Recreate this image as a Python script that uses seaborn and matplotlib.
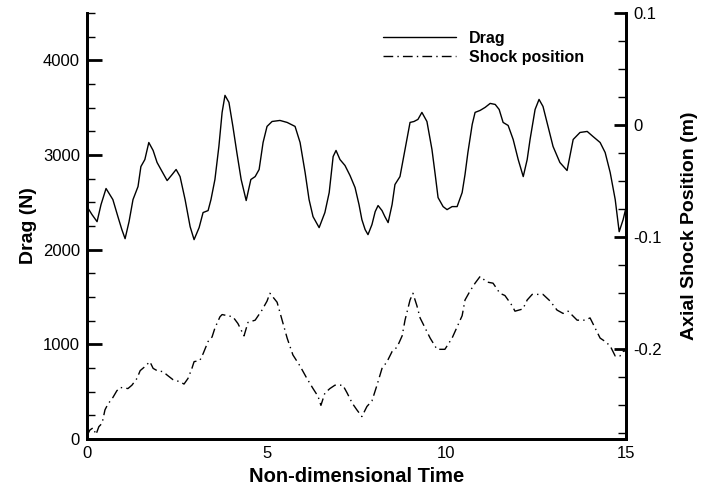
import numpy as np
import pandas as pd
import matplotlib
matplotlib.use("Agg")
import matplotlib.pyplot as plt
from matplotlib.ticker import MultipleLocator, FixedLocator
import seaborn as sns

# Drag history (N) against non-dimensional time
drag_time = [0.00, 0.14, 0.28, 0.39, 0.53, 0.72, 0.86, 0.97, 1.06, 1.17, 1.28, 1.42, 1.50,
             1.61, 1.72, 1.84, 1.95, 2.09, 2.23, 2.37, 2.48, 2.59, 2.73, 2.87, 2.98, 3.12,
             3.23, 3.37, 3.45, 3.56, 3.67, 3.76, 3.84, 3.95, 4.06, 4.17, 4.29, 4.43, 4.56,
             4.68, 4.79, 4.90, 5.01, 5.15, 5.37, 5.57, 5.79, 5.93, 6.07, 6.18, 6.29, 6.46,
             6.62, 6.74, 6.85, 6.93, 7.04, 7.18, 7.32, 7.46, 7.57, 7.65, 7.74, 7.82, 7.93,
             8.02, 8.10, 8.21, 8.29, 8.38, 8.49, 8.57, 8.71, 8.85, 8.99, 9.10, 9.21, 9.32,
             9.46, 9.60, 9.69, 9.77, 9.91, 10.02, 10.16, 10.30, 10.44, 10.52, 10.60, 10.72,
             10.80, 10.94, 11.08, 11.22, 11.36, 11.47, 11.58, 11.72, 11.86, 12.00, 12.14,
             12.25, 12.33, 12.47, 12.58, 12.69, 12.83, 12.97, 13.16, 13.36, 13.53, 13.72,
             13.92, 14.08, 14.28, 14.42, 14.56, 14.70, 14.81, 14.92, 15.00]
drag_value = [2455, 2370, 2296, 2476, 2646, 2529, 2349, 2212, 2116, 2296, 2529, 2667, 2878,
              2952, 3132, 3048, 2921, 2825, 2730, 2794, 2847, 2772, 2529, 2243, 2106, 2233,
              2392, 2413, 2529, 2741, 3090, 3450, 3630, 3556, 3302, 3026, 2741, 2519, 2741,
              2772, 2847, 3132, 3302, 3354, 3365, 3344, 3302, 3132, 2815, 2529, 2349, 2233,
              2392, 2603, 2984, 3048, 2952, 2889, 2783, 2656, 2476, 2317, 2212, 2159, 2265,
              2402, 2466, 2413, 2349, 2286, 2476, 2688, 2772, 3058, 3344, 3354, 3376, 3450,
              3354, 3058, 2794, 2550, 2455, 2423, 2455, 2455, 2603, 2794, 3026, 3323,
              3450, 3471, 3503, 3545, 3534, 3481, 3344, 3312, 3164, 2952, 2772,
              2952, 3164, 3481, 3587, 3513, 3302, 3090, 2921, 2836, 3164, 3238,
              3249, 3196, 3132, 3026, 2815, 2529, 2190, 2317, 2444]

# Axial shock position (m) against non-dimensional time
shock_time = [0.00, 0.08, 0.17, 0.25, 0.33, 0.42, 0.50, 0.58, 0.72, 0.83, 0.92, 1.14, 1.25,
              1.39, 1.48, 1.59, 1.75, 1.84, 1.95, 2.12, 2.23, 2.39, 2.59, 2.70, 2.81, 2.92,
              2.98, 3.14, 3.23, 3.37, 3.48, 3.56, 3.70, 3.76, 4.06, 4.20, 4.37, 4.48, 4.68,
              4.87, 5.01, 5.09, 5.29, 5.43, 5.57, 5.73, 5.93, 6.12, 6.29, 6.43, 6.51, 6.62,
              6.76, 6.90, 7.12, 7.24, 7.38, 7.51, 7.65, 7.79, 7.93, 8.07, 8.21, 8.35, 8.49,
              8.63, 8.77, 8.85, 8.99, 9.07, 9.18, 9.27, 9.41, 9.55, 9.74, 9.96, 10.16, 10.30,
              10.44, 10.52, 10.66, 10.80, 10.94, 11.13, 11.30, 11.49, 11.63, 11.83, 11.91,
              12.13, 12.25, 12.39, 12.69, 12.89, 13.08, 13.25, 13.39, 13.64, 13.86, 14.00,
              14.14, 14.28, 14.42, 14.56, 14.70, 14.83, 14.92, 15.00]
shock_value = [-0.277, -0.272, -0.270, -0.276, -0.269, -0.266, -0.254, -0.249, -0.243, -0.237,
               -0.234, -0.235, -0.232, -0.226, -0.219, -0.216, -0.211, -0.217, -0.219, -0.220,
               -0.223, -0.227, -0.229, -0.231, -0.226, -0.217, -0.211, -0.210, -0.204, -0.193,
               -0.189, -0.181, -0.171, -0.169, -0.171, -0.177, -0.188, -0.176, -0.174, -0.165,
               -0.157, -0.150, -0.158, -0.174, -0.190, -0.205, -0.215, -0.226, -0.235, -0.242,
               -0.250, -0.239, -0.235, -0.232, -0.232, -0.239, -0.248, -0.254, -0.260, -0.251,
               -0.246, -0.232, -0.217, -0.211, -0.202, -0.198, -0.188, -0.174, -0.156, -0.150,
               -0.161, -0.172, -0.181, -0.190, -0.200, -0.200, -0.190, -0.180, -0.170, -0.156,
               -0.148, -0.141, -0.135, -0.140, -0.141, -0.150, -0.152, -0.161, -0.166, -0.164,
               -0.156, -0.151, -0.151, -0.157, -0.165, -0.168, -0.166, -0.174, -0.174, -0.172,
               -0.181, -0.190, -0.193, -0.197, -0.206, -0.206, -0.202, -0.201]

x_ticks = [0, 5, 10, 15]
drag_ticks = [0, 1000, 2000, 3000, 4000]
shock_ticks = [-0.2, -0.1, 0, 0.1]
shock_tick_labels = ["-0.2", "-0.1", "0", "0.1"]

drag_df = pd.DataFrame({"t": drag_time, "drag": drag_value})
shock_df = pd.DataFrame({"t": shock_time, "shock": shock_value})

sns.set_theme(style="white")
plt.rcParams["font.family"] = ["Liberation Sans", "DejaVu Sans"]
plt.rcParams["axes.unicode_minus"] = False
plt.rcParams["text.color"] = "black"
plt.rcParams["axes.labelcolor"] = "black"

fig = plt.figure(figsize=(7.01, 4.91), dpi=100)
ax = fig.add_axes([87 / 701, 1 - 439 / 491, (626 - 87) / 701, (439 - 13) / 491])
ax2 = ax.twinx()

sns.lineplot(data=drag_df, x="t", y="drag", ax=ax, color="black", linewidth=1.0,
             sort=False, estimator=None, label="Drag", legend=False)
sns.lineplot(data=shock_df, x="t", y="shock", ax=ax2, color="black", linewidth=1.0,
             sort=False, estimator=None, label="Shock position", legend=False)
ax2.lines[0].set_linestyle((0, (7, 3, 1, 3)))

ax.set_xlim(0, 15)
ax.set_ylim(0, 4500)
ax2.set_ylim(-0.28, 0.1)

ax.xaxis.set_major_locator(FixedLocator(x_ticks))
ax.xaxis.set_minor_locator(MultipleLocator(1))
ax.yaxis.set_major_locator(FixedLocator(drag_ticks))
ax.yaxis.set_minor_locator(MultipleLocator(250))
ax2.yaxis.set_major_locator(FixedLocator(shock_ticks))
ax2.yaxis.set_minor_locator(MultipleLocator(0.025))
ax2.set_yticklabels(shock_tick_labels)

for a in (ax, ax2):
    a.grid(False)
    a.spines["top"].set_visible(False)
    for s in ("left", "right", "bottom"):
        a.spines[s].set_linewidth(2.0)
        a.spines[s].set_color("black")
    a.tick_params(which="major", direction="in", length=11, width=2, colors="black",
                  labelsize=12, pad=5)
    a.tick_params(which="minor", direction="in", length=6, width=1, colors="black")
ax.tick_params(axis="y", which="both", right=False)
ax.tick_params(axis="x", which="both", top=False)
ax2.tick_params(axis="y", which="both", left=False)
ax2.tick_params(axis="y", which="major", length=9)
ax.patch.set_visible(False)

ax.set_xlabel("Non-dimensional Time", fontsize=14.5, fontweight="bold", labelpad=4,
              color="black")
ax.set_ylabel("Drag (N)", fontsize=14, fontweight="bold", labelpad=4, color="black")
ax2.set_ylabel("Axial Shock Position (m)", fontsize=14, fontweight="bold", labelpad=14,
               color="black")

handles = ax.lines[:1] + ax2.lines[:1]
leg = ax.legend(handles, ["Drag", "Shock position"], loc="upper left",
                bbox_to_anchor=((383 - 87) / 539, 1 - (31 - 13) / 426), frameon=False,
                handlelength=4.6, handletextpad=0.8, labelspacing=0.25, borderpad=0,
                borderaxespad=0, prop={"weight": "bold", "size": 11.5})
for txt in leg.get_texts():
    txt.set_color("black")

fig.savefig("out.png", dpi=100)
